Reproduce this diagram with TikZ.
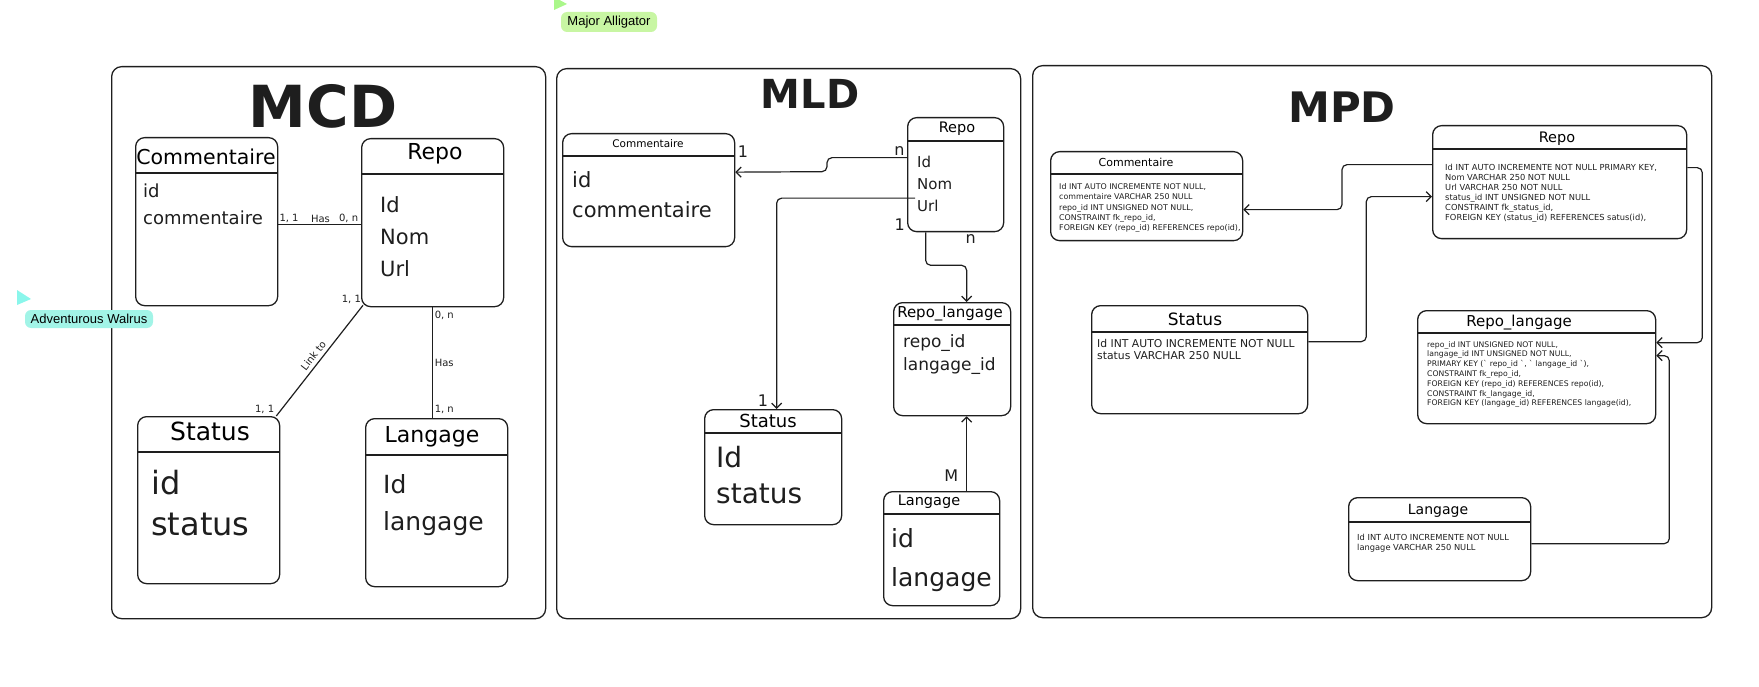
\documentclass[tikz,border=0pt]{standalone}
\usepackage{fontspec}
\setmainfont{DejaVu Sans}
\newfontfamily\tagfont{Liberation Sans}
\usetikzlibrary{positioning,arrows.meta}

\definecolor{ink}{HTML}{1E1E1E}
\definecolor{tagGreen}{RGB}{200,246,163}
\definecolor{tagCyan}{RGB}{162,244,231}
\newcommand{\setfs}[2]{\fontsize{#1}{#2}\selectfont}

\begin{document}
\begin{tikzpicture}[x=1pt, y=-1pt, % one unit = one pixel of the reference
frame/.style={rectangle, rounded corners=10pt, draw=ink, line width=1.3pt, inner sep=0pt, anchor=north west},
table/.style={rectangle, rounded corners=9pt, draw=ink, line width=1.3pt, inner sep=0pt, anchor=north west},
rule/.style={draw=ink, line width=1.2pt},
arr/.style={draw=ink, line width=1.2pt, rounded corners=5pt, -{Straight Barb[length=5pt, width=10pt]}},
body/.style={anchor=north west, align=left, inner sep=0pt, text=ink},
lbl/.style={font=\setfs{10}{12}, inner sep=1.5pt, text=ink},
card/.style={font=\setfs{16}{18}, inner sep=2pt, text=ink},
tag/.style={rectangle, rounded corners=6pt, inner sep=0pt, font=\tagfont\setfs{13}{15}, text=black},
]
\useasboundingbox (0,0) rectangle (1759,687);

% frames and big titles
\node[frame, minimum width=434pt, minimum height=552pt](mcd_frame) at (111,66){};
\node[frame, minimum width=464pt, minimum height=550pt](mld_frame) at (556,68){};
\node[frame, minimum width=679pt, minimum height=552pt](mpd_frame) at (1032,65){};

\node[font=\setfs{58}{60}\bfseries, text=ink](mcd_title) at (323,106){MCD};
\node[font=\setfs{40}{42}\bfseries, text=ink](mld_title) at (810,94){MLD};
\node[font=\setfs{42}{44}\bfseries, text=ink](mpd_title) at (1342,107){MPD};

% ---------- MCD ----------
\node[table, minimum width=142pt, minimum height=168pt](mcd_comm) at (135,137){};
\draw[rule] ([yshift=-36pt]mcd_comm.north west) -- ([yshift=-36pt]mcd_comm.north east);
\node[font=\setfs{20.5}{24}](mcd_comm_title) at (206,157){Commentaire};
\node[body, font=\setfs{18}{27}](mcd_comm_body) at (143,183.4){id\\commentaire};

\node[table, minimum width=142pt, minimum height=168pt](mcd_repo) at (361,138){};
\draw[rule] ([yshift=-36pt]mcd_repo.north west) -- ([yshift=-36pt]mcd_repo.north east);
\node[font=\setfs{22}{26}](mcd_repo_title) at (435,154){Repo};
\node[body, font=\setfs{21}{32}](mcd_repo_body) at (380,196){Id\\Nom\\Url};

\node[table, minimum width=142pt, minimum height=167pt](mcd_status) at (137,416){};
\draw[rule] ([yshift=-36pt]mcd_status.north west) -- ([yshift=-36pt]mcd_status.north east);
\node[font=\setfs{25}{30}](mcd_status_title) at (210,431){Status};
\node[body, font=\setfs{32}{41}](mcd_status_body) at (151,469.6){id\\status};

\node[table, minimum width=142pt, minimum height=168pt](mcd_lang) at (365,418){};
\draw[rule] ([yshift=-37pt]mcd_lang.north west) -- ([yshift=-37pt]mcd_lang.north east);
\node[font=\setfs{22}{26}](mcd_lang_title) at (432,437){Langage};
\node[body, font=\setfs{25}{37}](mcd_lang_body) at (383,474.5){Id\\langage};

\draw[rule] ([yshift=-3pt]mcd_comm.east) -- ([yshift=-3pt]mcd_comm.east -| mcd_repo.west)
  node[lbl, pos=0.13, above]{1, 1} node[lbl, pos=0.51, above]{Has} node[lbl, pos=0.85, above]{0, n};
\draw[rule] ([xshift=2pt, yshift=2pt]mcd_repo.south west) node[lbl, anchor=south east]{1, 1}
  -- ([xshift=-4pt]mcd_status.north east) node[lbl, pos=0.5, sloped, above=2pt]{Link to}
  node[lbl, pos=1, anchor=south east]{1, 1};
\draw[rule] (mcd_repo.south) node[lbl, anchor=north west, yshift=-2pt]{0, n}
  -- (mcd_repo.south |- mcd_lang.north) node[lbl, midway, right]{Has}
  node[lbl, pos=1, anchor=south west, yshift=2pt]{1, n};

% ---------- MLD ----------
\node[table, minimum width=172pt, minimum height=113pt](mld_comm) at (562,133){};
\draw[rule] ([yshift=-23pt]mld_comm.north west) -- ([yshift=-23pt]mld_comm.north east);
\node[font=\setfs{10.5}{12}](mld_comm_title) at (648,144){Commentaire};
\node[body, font=\setfs{21}{30}](mld_comm_body) at (572,171){id\\commentaire};

\node[table, minimum width=96pt, minimum height=114pt](mld_repo) at (907,117){};
\draw[rule] ([yshift=-24pt]mld_repo.north west) -- ([yshift=-24pt]mld_repo.north east);
\node[font=\setfs{14.5}{17}](mld_repo_title) at (957,129){Repo};
\node[body, font=\setfs{15}{22}](mld_repo_body) at (917,156){Id\\Nom\\Url};

\node[table, minimum width=117pt, minimum height=113pt](mld_rl) at (893,302){};
\draw[rule] ([yshift=-23pt]mld_rl.north west) -- ([yshift=-23pt]mld_rl.north east);
\node[font=\setfs{15}{17}](mld_rl_title) at (950,314){Repo\_langage};
\node[body, font=\setfs{17}{23}](mld_rl_body) at (903,334){repo\_id\\langage\_id};

\node[table, minimum width=137pt, minimum height=115pt](mld_status) at (704,409){};
\draw[rule] ([yshift=-24pt]mld_status.north west) -- ([yshift=-24pt]mld_status.north east);
\node[font=\setfs{18}{21}](mld_status_title) at (768,421){Status};
\node[body, font=\setfs{28}{36}](mld_status_body) at (716,446){Id\\status};

\node[table, minimum width=116pt, minimum height=114pt](mld_lang) at (883,491){};
\draw[rule] ([yshift=-23pt]mld_lang.north west) -- ([yshift=-23pt]mld_lang.north east);
\node[font=\setfs{14.5}{17}](mld_lang_title) at (929,502){Langage};
\node[body, font=\setfs{25}{39}](mld_lang_body) at (891,528.5){id\\langage};

\draw[arr] ([yshift=17pt]mld_repo.west) node[card, anchor=south east]{n}
  -- ++(-80,0) -- ++(0,14) -- ([yshift=18pt]mld_comm.east)
  node[card, pos=1, anchor=south west, yshift=12pt]{1};
\draw[arr] ([xshift=8pt, yshift=-23.5pt]mld_repo.west) -| ([xshift=3.5pt]mld_status.north)
  node[card, pos=1, anchor=south east, xshift=-6pt]{1};
\node[card, anchor=south east](mld_repo_one) at (mld_repo.south west){1};
\draw[arr] ([xshift=-30pt]mld_repo.south) -- ++(0,33) -| ([xshift=14.5pt]mld_rl.north);
\node[card, anchor=north, xshift=15pt](mld_repo_n) at (mld_repo.south){n};
\draw[arr] ([xshift=25pt]mld_lang.north) -- ([xshift=25pt]mld_lang.north |- mld_rl.south)
  node[card, pos=0.2, left=6pt]{M};

% ---------- MPD ----------
\node[table, minimum width=192pt, minimum height=89pt](mpd_comm) at (1050,151){};
\draw[rule] ([yshift=-23pt]mpd_comm.north west) -- ([yshift=-23pt]mpd_comm.north east);
\node[font=\setfs{11}{13}](mpd_comm_title) at (1136,162){Commentaire};
\node[body, font=\setfs{7.9}{10.3}](mpd_comm_body) at (1059,183.4){%
Id INT AUTO INCREMENTE NOT NULL,\\
commentaire VARCHAR 250 NULL\\
repo\_id INT UNSIGNED NOT NULL,\\
CONSTRAINT fk\_repo\_id,\\
FOREIGN KEY (repo\_id) REFERENCES repo(id),};

\node[table, minimum width=254pt, minimum height=113pt](mpd_repo) at (1432,125){};
\draw[rule] ([yshift=-24pt]mpd_repo.north west) -- ([yshift=-24pt]mpd_repo.north east);
\node[font=\setfs{14.5}{17}](mpd_repo_title) at (1557,139){Repo};
\node[body, font=\setfs{8.3}{10}](mpd_repo_body) at (1445,163.5){%
Id INT AUTO INCREMENTE NOT NULL PRIMARY KEY,\\
Nom VARCHAR 250 NOT NULL\\
Url VARCHAR 250 NOT NULL\\
status\_id INT UNSIGNED NOT NULL\\
CONSTRAINT fk\_status\_id,\\
FOREIGN KEY (status\_id) REFERENCES satus(id),};

\node[table, minimum width=216pt, minimum height=108pt](mpd_status) at (1091,305){};
\draw[rule] ([yshift=-27pt]mpd_status.north west) -- ([yshift=-27pt]mpd_status.north east);
\node[font=\setfs{17}{20}](mpd_status_title) at (1195,319){Status};
\node[body, font=\setfs{10.8}{12}](mpd_status_body) at (1097,339.5){%
Id INT AUTO INCREMENTE NOT NULL\\
status VARCHAR 250 NULL};

\node[table, minimum width=238pt, minimum height=113pt](mpd_rl) at (1417,310){};
\draw[rule] ([yshift=-23pt]mpd_rl.north west) -- ([yshift=-23pt]mpd_rl.north east);
\node[font=\setfs{15}{17}](mpd_rl_title) at (1519,323){Repo\_langage};
\node[body, font=\setfs{7.7}{9.8}](mpd_rl_body) at (1427,341){%
repo\_id INT UNSIGNED NOT NULL,\\
langage\_id INT UNSIGNED NOT NULL,\\
PRIMARY KEY (\textasciigrave{} repo\_id \textasciigrave{}, \textasciigrave{} langage\_id \textasciigrave{}),\\
CONSTRAINT fk\_repo\_id,\\
FOREIGN KEY (repo\_id) REFERENCES repo(id),\\
CONSTRAINT fk\_langage\_id,\\
FOREIGN KEY (langage\_id) REFERENCES langage(id),};

\node[table, minimum width=182pt, minimum height=83pt](mpd_lang) at (1348,497){};
\draw[rule] ([yshift=-25pt]mpd_lang.north west) -- ([yshift=-25pt]mpd_lang.north east);
\node[font=\setfs{14}{17}](mpd_lang_title) at (1438,511){Langage};
\node[body, font=\setfs{8.3}{10}](mpd_lang_body) at (1357,533.5){%
Id INT AUTO INCREMENTE NOT NULL\\
langage VARCHAR 250 NULL};

\draw[arr] ([yshift=17.5pt]mpd_repo.west) -- ++(-90,0) |- ([yshift=-13.5pt]mpd_comm.east);
\draw[arr] ([yshift=18pt]mpd_status.east) -- ++(58,0) |- ([yshift=-14.5pt]mpd_repo.west);
\draw[arr] ([yshift=14.5pt]mpd_repo.east) -- ++(15,0) |- ([yshift=24.5pt]mpd_rl.east);
\draw[arr] ([yshift=-4.5pt]mpd_lang.east) -- ++(138,0) |- ([yshift=11.5pt]mpd_rl.east);

% collaborator tags
\fill[tagGreen!85!green] (554,-3) -- (567,4) -- (554,10) -- cycle;
\node[tag, fill=tagGreen, minimum width=96pt, minimum height=20pt](major_alligator) at (609,22){Major Alligator};
\fill[tagCyan!85!cyan] (17,290) -- (31,299) -- (17,305) -- cycle;
\node[tag, fill=tagCyan, minimum width=128pt, minimum height=18pt](adventurous_walrus) at (89,319){Adventurous Walrus};

\end{tikzpicture}
\end{document}
